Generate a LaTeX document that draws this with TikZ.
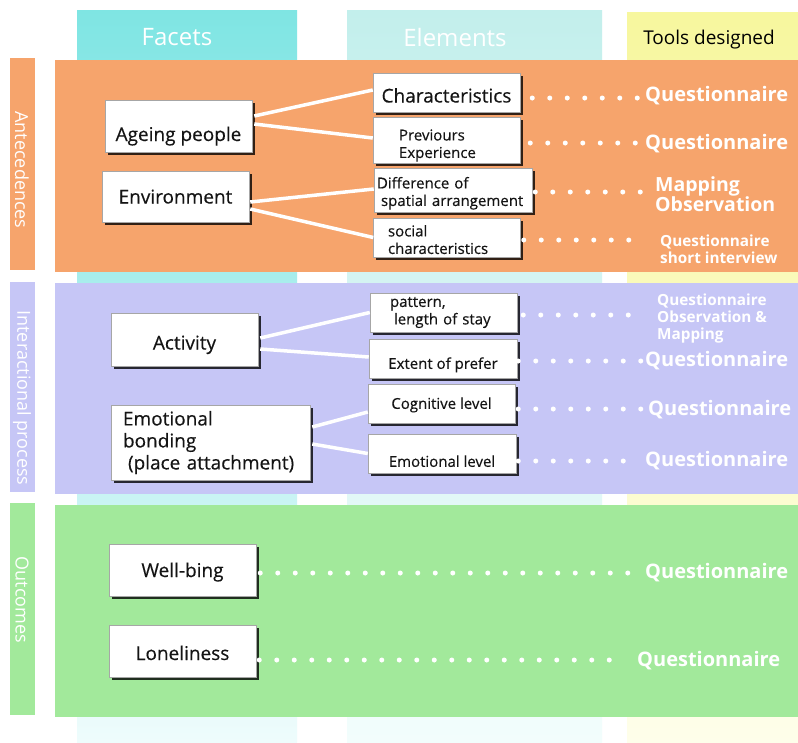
\documentclass[tikz,border=0pt]{standalone}
\usepackage{fontspec}
\setmainfont{Open Sans}
\newfontfamily\boxff{Open Sans}[FakeBold=0.35]
\usetikzlibrary{shadows,calc}
\definecolor{orangeP}{HTML}{F6A46C}
\definecolor{lavP}{HTML}{C6C6F6}
\definecolor{greenP}{HTML}{A2E99B}
\definecolor{facT}{HTML}{7FE5E3}
\definecolor{facB}{HTML}{EEFCFC}
\definecolor{eleT}{HTML}{C3EFEC}
\definecolor{eleB}{HTML}{F2FDFC}
\definecolor{tooT}{HTML}{F7F79E}
\definecolor{tooB}{HTML}{FEFEEA}
\definecolor{boxtext}{HTML}{141414}
\newcommand\fBig{\boxff\fontsize{19}{22}\selectfont}
\newcommand\fSmall{\boxff\fontsize{15}{17.5}\selectfont}
\newcommand\fTool{\fontsize{20}{20}\bfseries\selectfont}
\newcommand\fSTool{\fontsize{15.3}{17}\bfseries\selectfont}
\newcommand\fHead{\fontsize{24}{26}\selectfont}
\newcommand\fRow{\fontsize{18}{20}\selectfont}
\newcommand\pushdown[1]{\rule{0pt}{#1}}
\begin{document}
\begin{tikzpicture}[x=1pt,y=-1pt,
  box/.style={fill=white, draw=black!35, line width=0.5pt,
    drop shadow={shadow xshift=2.5pt,shadow yshift=-2.5pt,fill=black,opacity=0.8},
    inner sep=2pt, font=\fBig, minimum height=52pt, minimum width=147pt, text=boxtext},
  sbox/.style={box, font=\fSmall, minimum height=39pt},
  lbox/.style={align=left, text width=#1},
  th/.style={text height=#1, text depth=0pt},
  conn/.style={draw=white, line width=3.5pt},
  dots/.style={draw=white, line width=5pt, line cap=round, dash pattern=on 0pt off 17.5pt},
  tool/.style={text=white, font=\fTool, anchor=west, inner sep=0pt},
  stool/.style={tool, font=\fSTool, align=left},
  rowlab/.style={text=white, rotate=-90, font=\fRow, inner sep=0pt},
]
\useasboundingbox (0,0) rectangle (798,742);
\fill[white] (0,0) rectangle (798,742);
% columns
\shade[top color=facT, bottom color=facB] (77,10) rectangle (297,742);
\shade[top color=eleT, bottom color=eleB] (347,10) rectangle (602,742);
\shade[top color=tooT, bottom color=tooB] (627,12) rectangle (798,742);
% panels
\fill[orangeP] (55,60) rectangle (798,272);
\fill[lavP] (55,283) rectangle (798,494);
\fill[greenP] (55,505) rectangle (798,717);
% row bars
\fill[orangeP] (10,58) rectangle (35,270);
\fill[lavP] (10,282) rectangle (35,492);
\fill[greenP] (10,503) rectangle (35,715);
% headers
\node[text=white, font=\fHead] (hf) at (177,37) {Facets};
\node[text=white, font=\fHead] (he) at (455,37) {Elements};
\node[text=black, font=\fontsize{19}{21}\selectfont] (ht) at (709,40) {Tools designed};
% row labels
\node[rowlab] (ra) at (22,170) {Antecedences};
\node[rowlab] (ri) at (22,398) {Interactional process};
\node[rowlab] (ro) at (22,600) {Outcomes};
% facets
\node[box, th=30pt] (ap) at (178.5,126) {Ageing people};
\node[box, th=14pt, minimum height=51pt] (env) at (175.5,196.5) {Environment};
\node[box, th=20pt, minimum height=53pt] (act) at (184.5,339.5) {Activity};
\node[box, lbox=189pt, inner xsep=5pt, minimum height=75pt] (eb) at (210.5,442.5)
  {\hspace*{7pt}Emotional\\\hspace*{7pt}bonding\\\hspace*{12pt}(place attachment)};
\node[box, th=14pt] (wb) at (182.5,570) {Well-bing};
\node[box, th=18pt] (lo) at (182.5,651) {Loneliness};
% elements
\node[sbox, font=\fBig, th=20pt] (ch) at (446.5,92.5) {Characteristics};
\node[sbox, lbox=95pt, inner xsep=26pt] (pe) at (446.5,140.5) {\pushdown{21pt}Previours\\Experience};
\node[sbox, lbox=152pt, inner xsep=3pt, minimum height=44pt, minimum width=158pt] (ds) at (453,190)
  {\pushdown{18pt}Difference of\\\hspace*{4pt}spatial arrangement};
\node[sbox, lbox=118pt, inner xsep=14pt] (sc) at (447,237.5) {\pushdown{15.5pt}social\\characteristics};
\node[sbox, lbox=107pt, inner xsep=20pt] (pl) at (443.5,312.5) {pattern,\\\hspace*{4pt}length of stay};
\node[sbox, th=20.7pt, minimum width=148pt] (ep) at (443,358.5) {Extent of prefer};
\node[sbox, th=10.7pt] (cl) at (441.5,403.5) {Cognitive level};
\node[sbox, th=26.7pt, minimum width=148pt] (el) at (442,453.5) {Emotional level};
% tools
\node[tool] (t1) at (645,96) {Questionnaire};
\node[tool] (t2) at (645,144) {Questionnaire};
\node[tool, align=left, font=\fontsize{19.5}{20}\bfseries\selectfont] (t3) at (655,194) {Mapping\\Observation};
\node[stool] (t4) at (660,249) {Questionnaire\\short interview};
\node[stool] (t5) at (657,319) {Questionnaire\\Observation \&\\Mapping};
\node[tool] (t6) at (645,361) {Questionnaire};
\node[tool] (t7) at (648,410) {Questionnaire};
\node[tool] (t8) at (645,461) {Questionnaire};
\node[tool] (t9) at (645,573) {Questionnaire};
\node[tool] (t10) at (637,661) {Questionnaire};
% connectors
\draw[conn] ([shift={(2,-10)}]ap.east) -- ([shift={(0,-2.5)}]ch.west);
\draw[conn] ([shift={(2,-2)}]ap.east) -- ([shift={(0,-2.5)}]pe.west);
\draw[conn] ([shift={(1,5.5)}]env.east) -- ([shift={(0,-1)}]ds.west);
\draw[conn] ([shift={(1,12.5)}]env.east) -- (sc.west);
\draw[conn] ([shift={(2,-1.5)}]act.east) -- (pl.west);
\draw[conn] ([shift={(2,9.5)}]act.east) -- ([shift={(0,-1.5)}]ep.west);
\draw[conn] ([shift={(2,-15.5)}]eb.east) -- ([shift={(0,8.5)}]cl.west);
\draw[conn] ([shift={(2,1.5)}]eb.east) -- (el.west);
% dotted leaders
\draw[dots] ([shift={(12,5.5)}]ch.east) -- ++(105,0);
\draw[dots] ([shift={(10,2.5)}]pe.east) -- ++(105,0);
\draw[dots] ([shift={(3,2)}]ds.east) -- ++(105,0);
\draw[dots] ([shift={(3,2.5)}]sc.east) -- ++(105,0);
\draw[dots] ([shift={(6,2.5)}]pl.east) -- ++(105,0);
\draw[dots] ([shift={(1,2.5)}]ep.east) -- ++(122.5,0);
\draw[dots] ([shift={(3,5.5)}]cl.east) -- ++(122.5,0);
\draw[dots] ([shift={(2,7.5)}]el.east) -- ++(105,0);
\draw[dots] ([shift={(4,3)}]wb.east) -- ++(367.5,0);
\draw[dots] ([shift={(3,9)}]lo.east) -- ++(350,0);
\end{tikzpicture}
\end{document}
